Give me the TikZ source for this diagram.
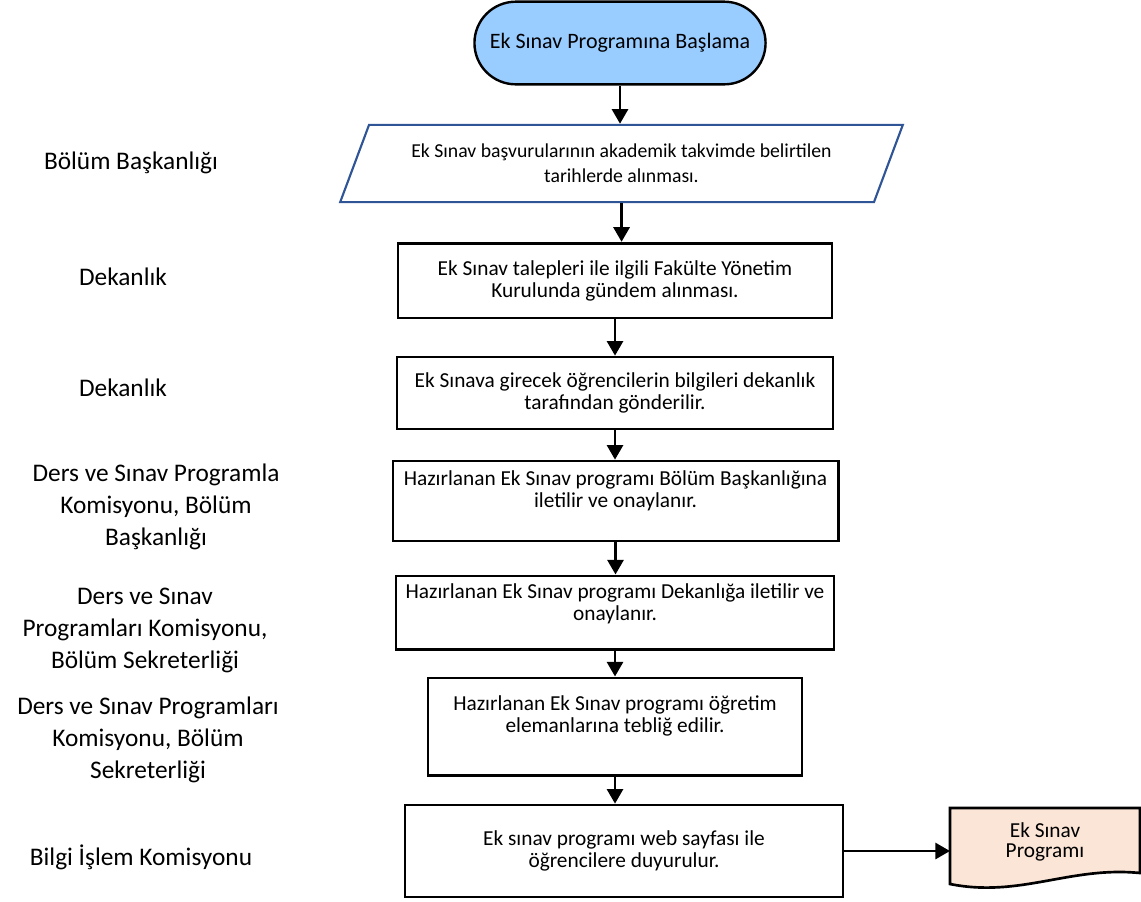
\documentclass[tikz,border=0pt]{standalone}
\usepackage{fontspec}
\setmainfont{Carlito}
\usetikzlibrary{arrows.meta,shapes.geometric,shapes.misc}

\tikzset{
  stepbox/.style = {draw, line width=2pt, align=center, inner sep=2pt,
    font=\fontsize{16}{16.5}\selectfont},
  lane/.style = {align=center, font=\fontsize{19}{24}\selectfont},
  flow/.style = {->, line width=2.2pt},
}

\begin{document}
\begin{tikzpicture}[x=0.75pt, y=-0.75pt, >={Triangle[length=11pt,width=12pt]}]
  \definecolor{startBlue}{HTML}{99CCFF};
  \definecolor{inputBlue}{HTML}{2F5597};
  \definecolor{docPeach}{HTML}{FBE5D6};
  \useasboundingbox (0,0) rectangle (1141,901);

  \node[rounded rectangle, draw, line width=1.8pt, fill = startBlue,
    minimum width=225pt, minimum height=62pt,
    font=\fontsize{16.5}{18}\selectfont] (start) at (620,43) {Ek Sınav Programına Başlama};

  \node[trapezium, trapezium left angle=59, trapezium right angle=121,
    trapezium stretches body, draw = inputBlue, line width=1.6pt,
    minimum width=422pt, minimum height=58pt, align=center,
    font=\fontsize{14.8}{19}\selectfont] (apply) at (621.5,163.5)
    {Ek Sınav başvurularının akademik takvimde belirtilen\\tarihlerde alınması.};

  \node[stepbox, minimum width=325.5pt, minimum height=56pt] (board) at (615,280.5)
    {Ek Sınav talepleri ile ilgili Fakülte Yönetim\\Kurulunda gündem alınması.};
  \node[stepbox, minimum width=327pt, minimum height=54pt] (students) at (615,393)
    {Ek Sınava girecek öğrencilerin bilgileri dekanlık\\tarafından gönderilir.};
  \node[stepbox, minimum width=334pt, minimum height=60pt, text depth=18pt] (headapp) at (615.5,501)
    {Hazırlanan Ek Sınav programı Bölüm Başkanlığına\\iletilir ve onaylanır.};
  \node[stepbox, minimum width=328.5pt, minimum height=55pt, text depth=16pt] (deanapp) at (615,612.5)
    {Hazırlanan Ek Sınav programı Dekanlığa iletilir ve\\onaylanır.};
  \node[stepbox, minimum width=280.5pt, minimum height=73pt, text depth=18pt] (notify) at (615,726.5)
    {Hazırlanan Ek Sınav programı öğretim\\elemanlarına tebliğ edilir.};
  \node[stepbox, minimum width=328.5pt, minimum height=69pt] (web) at (624,851)
    {Ek sınav programı web sayfası ile\\öğrencilere duyurulur.};

  % output document
  \filldraw[fill = docPeach, line width=2pt] (950,808) -- (1140,808) -- (1140,873)
    .. controls (1070,866) and (1020,898) .. (950,884) -- cycle;
  \node[align=center, font=\fontsize{16}{15}\selectfont] (doc) at (1045,842) {Ek Sınav\\Programı};
  \coordinate (docin) at (950,851);

  \draw[flow] (start.south) -- (start.south |- apply.north);
  \draw[flow] (apply.south) -- (apply.south |- board.north);
  \draw[flow] (board.south) -- (board.south |- students.north);
  \draw[flow] (students.south) -- (students.south |- headapp.north);
  \draw[flow] (headapp.south) -- (headapp.south |- deanapp.north);
  \draw[flow] (deanapp.south) -- (deanapp.south |- notify.north);
  \draw[flow] (notify.south) -- (notify.south |- web.north);
  \draw[flow] (web.east |- docin) -- (docin);

  % responsible units
  \node[lane] (lab1) at (131,163) {Bölüm Başkanlığı};
  \node[lane] (lab2) at (123,277) {Dekanlık};
  \node[lane] (lab3) at (123,388) {Dekanlık};
  \node[lane] (lab4) at (156,507) {Ders ve Sınav Programla\\Komisyonu, Bölüm\\Başkanlığı};
  \node[lane] (lab5) at (145,630) {Ders ve Sınav\\Programları Komisyonu,\\Bölüm Sekreterliği};
  \node[lane] (lab6) at (148,740) {Ders ve Sınav Programları\\Komisyonu, Bölüm\\Sekreterliği};
  \node[lane] (lab7) at (141,857) {Bilgi İşlem Komisyonu};
\end{tikzpicture}
\end{document}
